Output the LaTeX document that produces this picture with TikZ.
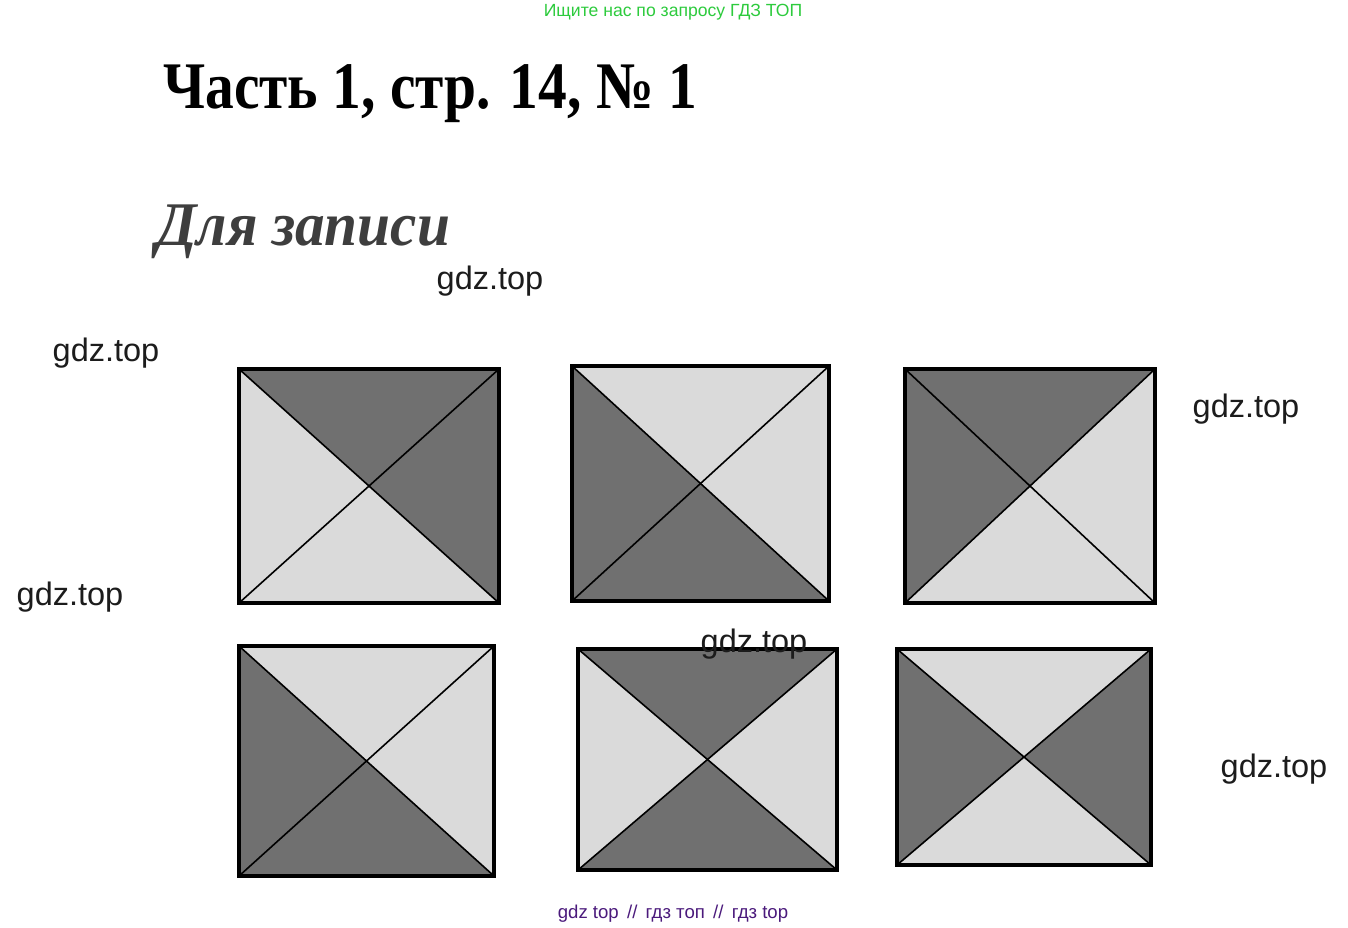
\documentclass[tikz,border=0pt]{standalone}
\usepackage{fontspec}
\usepackage{graphicx}
\setmainfont{Liberation Serif}
\newfontfamily\wmfont{Liberation Sans}
\definecolor{darkq}{HTML}{707070}
\definecolor{lightq}{HTML}{DADADA}
\definecolor{greentxt}{HTML}{2DCB3D}
\definecolor{purpletxt}{HTML}{4B1A7C}
\definecolor{subtitle}{HTML}{3E3E3E}
\definecolor{wmark}{HTML}{1C1C1C}
\tikzset{
  wm/.style={font=\wmfont\fontsize{32.5}{38}\selectfont, text=wmark, inner sep=0pt},
  border/.style={draw=black, line width=3.2pt},
  diag/.style={draw=black, line width=1.6pt},
}
% #1,#2 = top-left ; #3,#4 = bottom-right ; #5 top, #6 right, #7 bottom, #8 left fill
\newcommand\quadbox[8]{%
  \coordinate (tl) at (#1,#2);
  \coordinate (tr) at (#3,#2);
  \coordinate (br) at (#3,#4);
  \coordinate (bl) at (#1,#4);
  \coordinate (ctr) at ({(#1+#3)/2},{(#2+#4)/2});
  \fill[#5] (tl) -- (tr) -- (ctr) -- cycle;
  \fill[#6] (tr) -- (br) -- (ctr) -- cycle;
  \fill[#7] (br) -- (bl) -- (ctr) -- cycle;
  \fill[#8] (bl) -- (tl) -- (ctr) -- cycle;
  \draw[diag] (tl) -- (br);
  \draw[diag] (bl) -- (tr);
  \draw[border] (tl) rectangle (br);
}
\begin{document}
\begin{tikzpicture}[x=1pt,y=-1pt]
\useasboundingbox[fill=white] (0,0) rectangle (1348,928);

% header
\node[font=\wmfont\fontsize{17.6}{20}\selectfont, text=greentxt, inner sep=0pt] (hdr) at (673,12) {Ищите нас по запросу ГДЗ ТОП};

\node[anchor=base west, inner sep=0pt, font=\bfseries\fontsize{64}{70}\selectfont] (title) at (163,109)
  {\scalebox{0.898}[1.04]{Часть 1, стр. 14, № 1}};
\node[anchor=base west, inner sep=0pt, text=subtitle, font=\bfseries\itshape\fontsize{64}{70}\selectfont] (sub) at (156,245)
  {\scalebox{0.925}[0.97]{Для записи}};

% squares
\quadbox{239}{369}{499}{603}{darkq}{darkq}{lightq}{lightq}
\quadbox{572}{366}{829}{601}{lightq}{lightq}{darkq}{darkq}
\quadbox{905}{369}{1155}{603}{darkq}{lightq}{lightq}{darkq}
\quadbox{239}{646}{494}{876}{lightq}{lightq}{darkq}{darkq}
\quadbox{578}{649}{837}{870}{darkq}{lightq}{darkq}{lightq}
\quadbox{897}{649}{1151}{865}{lightq}{darkq}{lightq}{darkq}

% watermarks
\node[wm] (w1) at (490,281) {gdz.top};
\node[wm] (w2) at (106,353) {gdz.top};
\node[wm] (w3) at (1246,409) {gdz.top};
\node[wm] (w4) at (70,597) {gdz.top};
\node[wm] (w5) at (754,644) {gdz.top};
\node[wm] (w6) at (1274,769) {gdz.top};

\node[font=\wmfont\fontsize{18.6}{22}\selectfont, text=purpletxt, inner sep=0pt] (ftr) at (673,914) {gdz top \,//\, гдз топ \,//\, гдз top};
\end{tikzpicture}
\end{document}
